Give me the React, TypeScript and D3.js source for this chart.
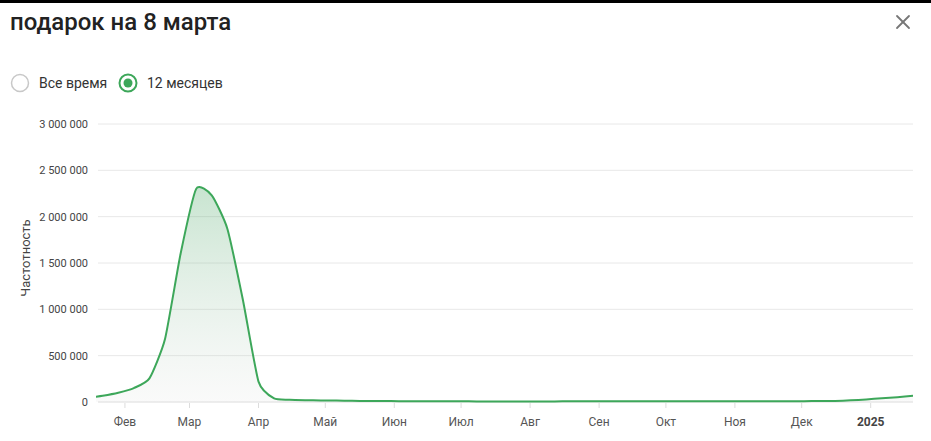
import React from "react";
import * as d3 from "d3";

const W = 931;
const H = 441;

const title = "подарок на 8 марта";
const radioLabels = ["Все время", "12 месяцев"];
const yAxisTitle = "Частотность";

// Weekly (Monday) points, 2024-01-15 .. 2025-01-20
const firstWeek = new Date(2024, 0, 15);
const lastWeek = new Date(2025, 0, 20);
const values = [
  45000, 68000, 100000, 150000, 255000, 680000, 1600000, 2300000, 2230000, 1870000,
  1100000, 220000, 38000, 25000, 20000, 17000, 15000, 13000, 11000, 10000,
  9000, 8000, 7500, 7000, 7000, 6500, 6500, 6500, 6500, 6500,
  6500, 7000, 7000, 7000, 7000, 7000, 7000, 7000, 7000, 7000,
  7500, 7500, 7500, 8000, 8000, 8500, 9000, 10000, 12000, 18000,
  28000, 40000, 52000, 68000,
];

const domainStart = new Date(2024, 0, 19);
const domainEnd = new Date(2025, 0, 20);

const monthTicks = [
  new Date(2024, 1, 1), new Date(2024, 2, 1), new Date(2024, 3, 1), new Date(2024, 4, 1),
  new Date(2024, 5, 1), new Date(2024, 6, 1), new Date(2024, 7, 1), new Date(2024, 8, 1),
  new Date(2024, 9, 1), new Date(2024, 10, 1), new Date(2024, 11, 1), new Date(2025, 0, 1),
];
const monthLabels = ["Фев", "Мар", "Апр", "Май", "Июн", "Июл", "Авг", "Сен", "Окт", "Ноя", "Дек", "2025"];

const yTicks = [0, 500000, 1000000, 1500000, 2000000, 2500000, 3000000];
const yTickLabels = ["0", "500 000", "1 000 000", "1 500 000", "2 000 000", "2 500 000", "3 000 000"];

const GREEN = "#3da75a";

export default function App() {
  const dates = d3.timeMonday.range(firstWeek, d3.timeDay.offset(lastWeek, 1));
  const data = dates.map((d, i) => ({ date: d, value: values[i] }));

  const x = d3.scaleTime().domain([domainStart, domainEnd]).range([96, 913]);
  const y = d3.scaleLinear().domain([0, 3000000]).range([402, 124]);

  const curve = d3.curveCardinal.tension(0.45);
  const line = d3
    .line<{ date: Date; value: number }>()
    .x((d) => x(d.date))
    .y((d) => y(d.value))
    .curve(curve);
  const area = d3
    .area<{ date: Date; value: number }>()
    .x((d) => x(d.date))
    .y0(y(0))
    .y1((d) => y(d.value))
    .curve(curve);

  const font = "Roboto, 'Noto Sans', Arial, sans-serif";

  return (
    <div style={{ position: "absolute", left: 0, top: 0, width: W, height: H, background: "#fff" }}>
      <svg width={W} height={H} style={{ display: "block", fontFamily: font }}>
        <defs>
          <clipPath id="plotClip">
            <rect x={96} y={100} width={817} height={302} />
          </clipPath>
          <linearGradient id="areaGrad" x1="0" y1="0" x2="0" y2="1" gradientUnits="objectBoundingBox">
            <stop offset="0%" stopColor="#3a9f57" stopOpacity={0.28} />
            <stop offset="100%" stopColor="#dddddd" stopOpacity={0.15} />
          </linearGradient>
        </defs>
        <rect x={0} y={0} width={W} height={H} fill="#fff" />
        <rect x={0} y={0} width={W} height={3} fill="#000" />

        <text x={10} y={30} fontSize={24} fontWeight={500} fill="#222">
          {title}
        </text>
        <g stroke="#777" strokeWidth={1.8} strokeLinecap="round">
          <line x1={897} y1={16} x2={909} y2={28} />
          <line x1={909} y1={16} x2={897} y2={28} />
        </g>

        {/* radio buttons */}
        <circle cx={20} cy={83} r={8.5} fill="#fff" stroke="#c8c8c8" strokeWidth={1.5} />
        <text x={39} y={88} fontSize={14} fill="#333">
          {radioLabels[0]}
        </text>
        <circle cx={128} cy={83} r={8.5} fill="#fff" stroke={GREEN} strokeWidth={2} />
        <circle cx={128} cy={83} r={4.5} fill={GREEN} />
        <text x={147} y={88} fontSize={14} fill="#333">
          {radioLabels[1]}
        </text>

        {/* gridlines */}
        {yTicks.map((t, i) => (
          <g key={t}>
            <line x1={98} x2={913} y1={y(t)} y2={y(t)} stroke={i === 0 ? "#dcdcdc" : "#e8e8e8"} strokeWidth={1} />
            <text x={88} y={y(t) + 4} fontSize={11} fill="#444" textAnchor="end">
              {yTickLabels[i]}
            </text>
          </g>
        ))}

        <text
          transform={`translate(30, ${y(1500000) - 5}) rotate(-90)`}
          fontSize={13}
          fill="#444"
          textAnchor="middle"
        >
          {yAxisTitle}
        </text>

        {/* x ticks */}
        {monthTicks.map((t, i) => (
          <g key={i}>
            <line x1={x(t)} x2={x(t)} y1={403} y2={408} stroke="#dcdcdc" strokeWidth={1} />
            <text
              x={x(t)}
              y={426}
              fontSize={12}
              fill={i === monthTicks.length - 1 ? "#444" : "#555"}
              fontWeight={i === monthTicks.length - 1 ? 700 : 400}
              textAnchor="middle"
            >
              {monthLabels[i]}
            </text>
          </g>
        ))}

        <g clipPath="url(#plotClip)">
          <path d={area(data) || ""} fill="url(#areaGrad)" />
        </g>
        <g clipPath="url(#lineClip)">
          <clipPath id="lineClip">
            <rect x={96} y={100} width={817} height={310} />
          </clipPath>
          <path d={line(data) || ""} fill="none" stroke={GREEN} strokeWidth={2} strokeLinejoin="round" />
        </g>
      </svg>
    </div>
  );
}
